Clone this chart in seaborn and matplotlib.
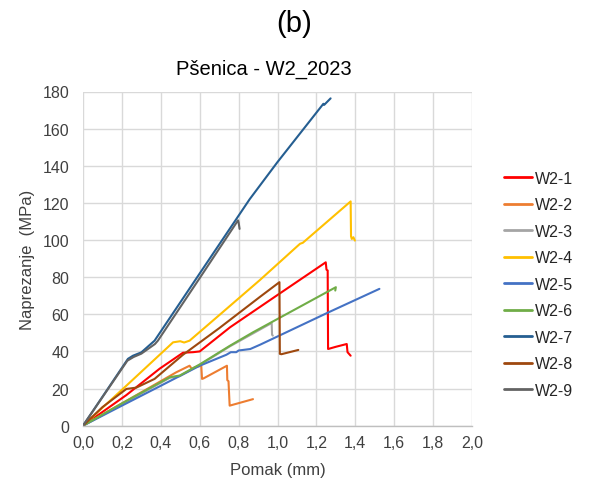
import matplotlib
matplotlib.use("Agg")
import matplotlib.pyplot as plt
import seaborn as sns
import pandas as pd

# ---- data (displacement in mm, stress in MPa) ----
labels = ["W2-1", "W2-2", "W2-3", "W2-4", "W2-5", "W2-6", "W2-7", "W2-8", "W2-9"]
colors = ["#FF0000", "#ED7D31", "#A5A5A5", "#FFC000", "#4472C4",
          "#70AD47", "#255E91", "#9E480E", "#636363"]

w1_x = [0, 0.223, 0.394, 0.514, 0.566, 0.60, 0.756, 1.0, 1.248, 1.252, 1.258, 1.260, 1.30, 1.356, 1.360, 1.376]
w1_y = [0, 16.5, 30.7, 39.3, 39.6, 40.0, 53.0, 70.4, 88.0, 84.0, 83.6, 41.3, 42.5, 44.0, 39.6, 37.7]

w2_x = [0, 0.20, 0.48, 0.548, 0.56, 0.575, 0.608, 0.612, 0.62, 0.740, 0.742, 0.748, 0.754, 0.874]
w2_y = [0, 12.0, 28.8, 32.3, 30.5, 31.5, 32.3, 25.2, 25.5, 32.3, 24.5, 24.0, 10.8, 14.3]

w3_x = [0, 0.20, 0.446, 0.497, 0.60, 0.756, 0.970, 0.972, 0.976]
w3_y = [0, 11.5, 25.8, 26.7, 32.7, 42.8, 55.3, 49.0, 48.5]

w4_x = [0, 0.242, 0.463, 0.50, 0.52, 0.548, 0.70, 0.91, 1.10, 1.116, 1.13, 1.376, 1.378, 1.382, 1.39, 1.398]
w4_y = [0, 23.4, 44.9, 45.5, 44.8, 45.8, 59.5, 78.5, 96.5, 98.0, 98.5, 120.8, 102.0, 100.6, 101.5, 99.7]

w5_x = [0, 0.20, 0.396, 0.60, 0.737, 0.760, 0.788, 0.80, 0.860, 0.91, 1.261, 1.524]
w5_y = [0, 10.8, 21.3, 32.3, 38.2, 39.6, 39.6, 40.5, 41.3, 43.6, 61.0, 73.7]

w6_x = [0, 0.20, 0.446, 0.497, 0.60, 0.756, 0.874, 1.300, 1.297]
w6_y = [0, 12.0, 26.1, 27.0, 33.0, 43.1, 50.3, 74.6, 72.8]

w7_x = [0, 0.231, 0.257, 0.30, 0.368, 0.60, 0.857, 1.0, 1.236, 1.240, 1.273]
w7_y = [0, 36.0, 37.7, 39.5, 45.8, 82.0, 122.0, 142.0, 173.4, 172.8, 176.3]

w8_x = [0, 0.10, 0.223, 0.274, 0.368, 0.514, 0.70, 0.91, 1.010, 1.012, 1.02, 1.107]
w8_y = [0, 10.0, 19.8, 20.5, 25.2, 38.2, 52.5, 69.4, 77.3, 38.7, 38.5, 40.8]

w9_x = [0, 0.228, 0.26, 0.30, 0.37, 0.385, 0.60, 0.797, 0.80, 0.805]
w9_y = [0, 35.0, 37.0, 38.8, 44.0, 45.8, 79.5, 110.6, 109.5, 106.0]

xs = [w1_x, w2_x, w3_x, w4_x, w5_x, w6_x, w7_x, w8_x, w9_x]
ys = [w1_y, w2_y, w3_y, w4_y, w5_y, w6_y, w7_y, w8_y, w9_y]

x_ticks = [0.0, 0.2, 0.4, 0.6, 0.8, 1.0, 1.2, 1.4, 1.6, 1.8, 2.0]
y_ticks = [0, 20, 40, 60, 80, 100, 120, 140, 160, 180]

rows = []
for lab, xv, yv in zip(labels, xs, ys):
    for i, (a, b) in enumerate(zip(xv, yv)):
        rows.append({"series": lab, "order": i, "x": a, "y": b})
df = pd.DataFrame(rows)

sns.set_theme(style="white")
plt.rcParams["font.family"] = ["Liberation Sans", "DejaVu Sans"]

fig = plt.figure(figsize=(5.92, 4.85), dpi=100)
ax = fig.add_axes([83 / 592, 1 - 426.7 / 485, (472 - 83) / 592, (426.7 - 92.5) / 485])

sns.lineplot(data=df, x="x", y="y", hue="series", hue_order=labels,
             palette=dict(zip(labels, colors)), sort=False, estimator=None,
             units="series", linewidth=1.5, ax=ax, legend=True)

ax.set_xlim(0, 2.0)
ax.set_ylim(0, 180)
ax.set_xticks(x_ticks)
ax.set_yticks(y_ticks)
ax.set_xticklabels([f"{t:.1f}".replace(".", ",") for t in x_ticks])
ax.set_yticklabels([str(t) for t in y_ticks])
ax.tick_params(axis="both", length=0, labelsize=11.5, colors="#404040")
ax.tick_params(axis="x", pad=7)
ax.tick_params(axis="y", pad=10)
ax.grid(True, color="#D9D9D9", linewidth=1.0)
ax.set_axisbelow(True)
for s in ["top", "right", "left"]:
    ax.spines[s].set_visible(False)
ax.spines["bottom"].set_color("#BFBFBF")
ax.spines["bottom"].set_linewidth(1.0)

ax.set_xlabel("Pomak (mm)", fontsize=12, color="#404040", labelpad=8)
ax.set_ylabel("Naprezanje  (MPa)", fontsize=12, color="#404040", labelpad=5)

fig.text(264 / 592, 1 - 75 / 485, "Pšenica - W2_2023", ha="center", va="baseline",
         fontsize=14.5, color="#000000")
fig.text(294 / 592, 1 - 32 / 485, "(b)", ha="center", va="baseline",
         fontsize=21, color="#000000")

handles, labs = ax.get_legend_handles_labels()
ax.legend(handles, labs, loc="center left", bbox_to_anchor=(504 / 592, 1 - 285.5 / 485),
          bbox_transform=fig.transFigure, frameon=False, fontsize=11.5,
          handlelength=1.75, handletextpad=0.2, labelspacing=0.72,
          borderpad=0, borderaxespad=0)
for line in ax.get_legend().get_lines():
    line.set_linewidth(2.0)

fig.savefig("out.png", dpi=100)
